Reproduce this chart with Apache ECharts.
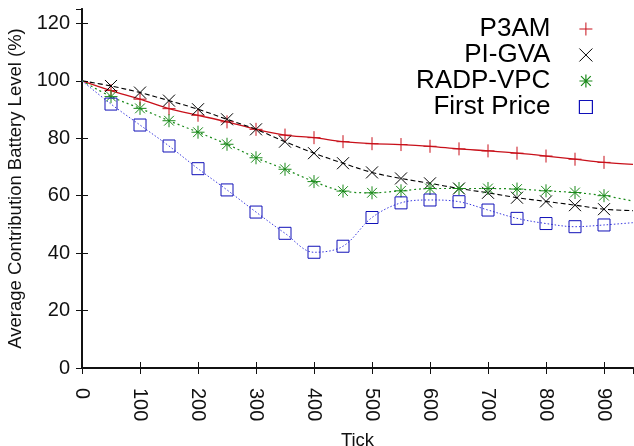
<!DOCTYPE html>
<html>
<head>
<meta charset="utf-8">
<script src="https://cdn.jsdelivr.net/npm/echarts@6/dist/echarts.min.js"></script>
<style>
html, body { margin: 0; padding: 0; background: #fff; }
#chart { width: 634px; height: 446px; }
</style>
</head>
<body>
<div id="chart"></div>
<script>
// x positions (ticks); first and last points carry the curve only, no marker
var ticks = [0, 50, 100, 150, 200, 250, 300, 350, 400, 450, 500, 550, 600, 650, 700, 750, 800, 850, 900, 950]
var p3am = [100, 96.6, 93.6, 90.3, 88.0, 85.7, 83.1, 81.1, 80.2, 78.8, 78.1, 77.8, 77.2, 76.3, 75.6, 74.8, 73.8, 72.7, 71.6, 70.9]
var pigva = [100, 98.2, 95.9, 93.1, 90.1, 86.6, 83.1, 78.8, 74.8, 71.3, 68.1, 66.0, 64.3, 62.5, 61.0, 59.3, 58.0, 56.7, 55.3, 54.8]
var radp = [100, 94.5, 90.4, 86.1, 82.1, 77.9, 73.2, 69.2, 64.9, 61.6, 61.0, 61.7, 62.5, 62.5, 62.5, 62.3, 61.7, 61.1, 60.0, 58.1]
var firstPrice = [100, 91.9, 84.6, 77.3, 69.4, 62.0, 54.3, 46.9, 40.3, 42.4, 52.4, 57.5, 58.5, 57.9, 55.0, 52.1, 50.3, 49.2, 49.8, 50.6]
var names = ['P3AM', 'PI-GVA', 'RADP-VPC', 'First Price']

var plusIcon = 'path://M0,-1L0,1M-1,0L1,0'
var crossIcon = 'path://M-1,-1L1,1M-1,1L1,-1'
var starIcon = 'path://M0,-1L0,1M-1,0L1,0M-0.75,-0.75L0.75,0.75M-0.75,0.75L0.75,-0.75'
var boxIcon = 'path://M-1,-1L1,-1L1,1L-1,1Z'

function toData (vals) {
  var out = []
  for (var i = 0; i < ticks.length; i++) {
    var item = { value: [ticks[i], vals[i]] }
    if (i === 0 || i === ticks.length - 1) item.symbol = 'none'
    out.push(item)
  }
  return out
}

function makeSeries (name, vals, color, lineColor, icon, size, dash, width) {
  return {
    name: name,
    type: 'line',
    data: toData(vals),
    smooth: 0.35,
    symbol: icon,
    symbolSize: size,
    showAllSymbol: true,
    itemStyle: { color: 'transparent', borderColor: color, borderWidth: 1 },
    lineStyle: { color: lineColor, width: width, type: dash },
    emphasis: { disabled: true }
  }
}

var frame = { show: true, lineStyle: { color: '#111', width: 1.8 } }
var ticksIn = { show: true, inside: true, length: 6, lineStyle: { color: '#111', width: 1 } }
var labelFont = { fontFamily: 'Liberation Sans', fontSize: 20, color: '#111' }

var chart = echarts.init(document.getElementById('chart'))
chart.setOption({
  animation: false,
  backgroundColor: '#fff',
  grid: { left: 82, right: 1, top: 9, bottom: 78, outerBoundsMode: 'none', containLabel: false },
  legend: {
    orient: 'vertical',
    right: 36,
    top: 11,
    align: 'right',
    itemGap: 0,
    itemWidth: 13,
    itemHeight: 13,
    textStyle: { fontFamily: 'Liberation Sans', fontSize: 26, lineHeight: 23, color: '#000', padding: [0, 24, 0, 0] },
    data: [
      { name: names[0], icon: plusIcon, itemStyle: { color: 'transparent', borderColor: '#c8101a', borderWidth: 1 } },
      { name: names[1], icon: crossIcon, itemStyle: { color: 'transparent', borderColor: '#000', borderWidth: 1 } },
      { name: names[2], icon: starIcon, itemStyle: { color: 'transparent', borderColor: '#1a8a1a', borderWidth: 1.2 } },
      { name: names[3], icon: boxIcon, itemStyle: { color: 'transparent', borderColor: '#1010b8', borderWidth: 1.2 } }
    ]
  },
  xAxis: [
    {
      type: 'value',
      min: 0,
      max: 950,
      interval: 100,
      name: 'Tick',
      nameLocation: 'middle',
      nameGap: 63,
      nameTextStyle: { fontFamily: 'Liberation Sans', fontSize: 18.5, color: '#111' },
      axisLine: frame,
      axisTick: ticksIn,
      splitLine: { show: false },
      axisLabel: Object.assign({ rotate: -90, margin: 20, showMaxLabel: false }, labelFont)
    },
    {
      type: 'value',
      position: 'top',
      min: 0,
      max: 950,
      interval: 100,
      axisLine: frame,
      axisTick: ticksIn,
      splitLine: { show: false },
      axisLabel: { show: false }
    }
  ],
  yAxis: [
    {
      type: 'value',
      min: 0,
      max: 125,
      interval: 20,
      name: 'Average Contribution Battery Level (%)',
      nameLocation: 'middle',
      nameGap: 53,
      nameTextStyle: { fontFamily: 'Liberation Sans', fontSize: 18.5, color: '#111' },
      axisLine: frame,
      axisTick: ticksIn,
      splitLine: { show: false },
      axisLabel: Object.assign({ margin: 12, showMaxLabel: false }, labelFont)
    },
    {
      type: 'value',
      position: 'right',
      min: 0,
      max: 125,
      interval: 20,
      axisLine: frame,
      axisTick: ticksIn,
      splitLine: { show: false },
      axisLabel: { show: false }
    }
  ],
  series: [
    makeSeries(names[0], p3am, '#c8101a', '#c8101a', plusIcon, 13, 'solid', 1.3),
    makeSeries(names[1], pigva, '#000', '#000', crossIcon, 12, [5, 3], 1.1),
    makeSeries(names[2], radp, '#1a8a1a', '#1a8a1a', starIcon, 13, [2, 3], 1.2),
    makeSeries(names[3], firstPrice, '#1010b8', '#3a3ae0', boxIcon, 12, [1.5, 2], 1)
  ]
})
</script>
</body>
</html>
